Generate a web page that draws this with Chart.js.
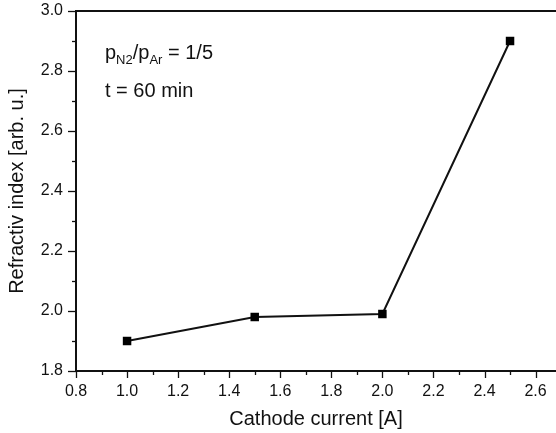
<!DOCTYPE html>
<html>
<head>
<meta charset="utf-8">
<script src="https://cdn.jsdelivr.net/npm/chart.js@4/dist/chart.umd.min.js"></script>
<style>
  html, body { margin: 0; padding: 0; background: #fff; overflow: hidden; }
  #wrap { width: 556px; height: 433px; position: relative; overflow: hidden; }
</style>
</head>
<body>
<div id="wrap"><canvas id="c" width="562" height="433"></canvas></div>
<script>
// ---- data ----
const cathodeCurrent = [1.0, 1.5, 2.0, 2.5];
const refractiveIndex = [1.90, 1.98, 1.99, 2.90];
const xTickLabels = ['0.8', '1.0', '1.2', '1.4', '1.6', '1.8', '2.0', '2.2', '2.4', '2.6'];
const yTickLabels = ['1.8', '2.0', '2.2', '2.4', '2.6', '2.8', '3.0'];
const xTitle = 'Cathode current [A]';
const yTitle = 'Refractiv index [arb. u.]';

const FONT = "'Liberation Sans', Arial, Helvetica, sans-serif";

function isMajor(v, labels) {
  return labels.indexOf(v.toFixed(1)) !== -1;
}

const customTicks = {
  id: 'customTicks',
  afterDraw(chart) {
    const ctx = chart.ctx;
    const ca = chart.chartArea;
    ctx.save();
    ctx.strokeStyle = '#111';
    ctx.lineWidth = 1.3;
    const xs = chart.scales.x, ys = chart.scales.y;
    xs.ticks.forEach(t => {
      const px = Math.round(xs.getPixelForValue(t.value)) + 0.5;
      const len = isMajor(t.value, xTickLabels) ? 7 : 4;
      ctx.beginPath(); ctx.moveTo(px, ca.bottom); ctx.lineTo(px, ca.bottom + len); ctx.stroke();
    });
    ys.ticks.forEach(t => {
      const py = Math.round(ys.getPixelForValue(t.value)) + 0.5;
      const len = isMajor(t.value, yTickLabels) ? 8 : 4;
      ctx.beginPath(); ctx.moveTo(ca.left, py); ctx.lineTo(ca.left - len, py); ctx.stroke();
    });
    // top frame line
    ctx.lineWidth = 2;
    ctx.beginPath(); ctx.moveTo(ca.left - 1, ca.top); ctx.lineTo(chart.width, ca.top); ctx.stroke();

    // annotation text
    ctx.fillStyle = '#111';
    ctx.textBaseline = 'alphabetic';
    ctx.textAlign = 'left';
    let x = ca.left + 29, y = ca.top + 48;
    const big = '20px ' + FONT, small = '13px ' + FONT;
    const parts = [['p', big, 0], ['N2', small, 5], ['/p', big, 0], ['Ar', small, 5], [' = 1/5', big, 0]];
    parts.forEach(([s, f, dy]) => {
      ctx.font = f;
      ctx.fillText(s, x, y + dy);
      x += ctx.measureText(s).width;
    });
    ctx.font = big;
    ctx.fillText('t = 60 min', ca.left + 29, ca.top + 86);
    ctx.restore();
  }
};

new Chart(document.getElementById('c'), {
  type: 'scatter',
  data: {
    datasets: [{
      data: cathodeCurrent.map((x, i) => ({ x: x, y: refractiveIndex[i] })),
      showLine: true,
      borderColor: '#111',
      borderWidth: 2,
      backgroundColor: '#000',
      pointStyle: 'rect',
      pointRadius: 6,
      pointHoverRadius: 6,
      pointBorderWidth: 0,
      tension: 0
    }]
  },
  options: {
    responsive: false,
    animation: false,
    events: [],
    layout: { padding: { top: 11, right: 0, left: 0, bottom: 0 } },
    plugins: { legend: { display: false }, tooltip: { enabled: false } },
    scales: {
      x: {
        type: 'linear',
        min: 0.8,
        max: 2.68,
        afterFit: s => { s.height = 62; s.paddingLeft = 0; s.paddingRight = 0; },
        afterBuildTicks: s => {
          s.ticks = [];
          for (let i = 0; i <= 18; i++) s.ticks.push({ value: +(0.8 + i * 0.1).toFixed(1) });
        },
        ticks: {
          includeBounds: false,
          autoSkip: false,
          maxRotation: 0,
          color: '#111',
          font: { family: FONT, size: 16 },
          padding: 4,
          callback: v => isMajor(v, xTickLabels) ? v.toFixed(1) : ''
        },
        grid: { drawOnChartArea: false, drawTicks: true, tickLength: 7, tickColor: 'rgba(0,0,0,0)' },
        border: { display: true, color: '#111', width: 2 },
        title: { display: true, text: xTitle, color: '#111', font: { family: FONT, size: 20 }, padding: { top: 0, bottom: 2 } }
      },
      y: {
        type: 'linear',
        min: 1.8,
        max: 3.0,
        afterFit: s => { s.width = 76; s.paddingTop = 0; s.paddingBottom = 0; },
        afterBuildTicks: s => {
          s.ticks = [];
          for (let i = 0; i <= 12; i++) s.ticks.push({ value: +(1.8 + i * 0.1).toFixed(1) });
        },
        ticks: {
          autoSkip: false,
          color: '#111',
          font: { family: FONT, size: 16 },
          padding: 5,
          callback: v => isMajor(v, yTickLabels) ? v.toFixed(1) : ''
        },
        grid: { drawOnChartArea: false, drawTicks: true, tickLength: 8, tickColor: 'rgba(0,0,0,0)' },
        border: { display: true, color: '#111', width: 2 },
        title: { display: true, text: yTitle, color: '#111', font: { family: FONT, size: 20 }, padding: { top: 5, bottom: 0 } }
      }
    }
  },
  plugins: [customTicks]
});
</script>
</body>
</html>
